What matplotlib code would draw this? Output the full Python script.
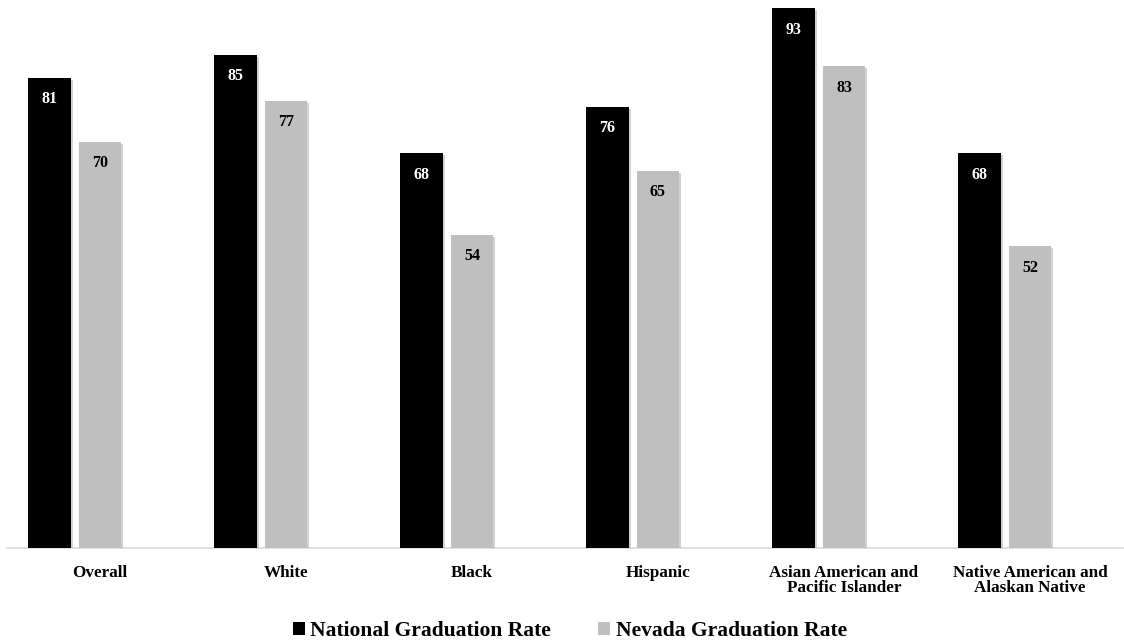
import matplotlib
matplotlib.use("Agg")
import matplotlib.pyplot as plt
import matplotlib.patheffects as pe
from matplotlib.patches import Patch
import numpy as np

categories = ["Overall", "White", "Black", "Hispanic",
              "Asian American and\nPacific Islander",
              "Native American and\nAlaskan Native"]
national = [81, 85, 68, 76, 93, 68]
nevada = [70, 77, 54, 65, 83, 52]
series_names = ["National Graduation Rate", "Nevada Graduation Rate"]

plt.rcParams['font.family'] = ['Liberation Serif', 'DejaVu Serif']
plt.rcParams['font.weight'] = 'bold'

fig = plt.figure(figsize=(11.24, 6.4), dpi=100)
ax = fig.add_axes([7/1124, 92/640, 1116/1124, 548/640])

x = np.arange(len(categories))
w = 0.23
shift = 0.272
shadow = [pe.SimplePatchShadow(offset=(1.5, -1.5), shadow_rgbFace='#808080', alpha=0.35), pe.Normal()]

b1 = ax.bar(x - shift, national, width=w, color='black', zorder=3)
b2 = ax.bar(x, nevada, width=w, color='#bfbfbf', zorder=3)
for b in list(b1) + list(b2):
    b.set_path_effects(shadow)

for xi, v in zip(x - shift, national):
    ax.text(xi, v - 3.7, str(v), ha='center', va='center', color='white',
            fontsize=11.5, fontweight='bold', zorder=4)
for xi, v in zip(x, nevada):
    ax.text(xi, v - 3.7, str(v), ha='center', va='center', color='black',
            fontsize=11.5, fontweight='bold', zorder=4)

ax.set_xlim(-0.5, 5.5)
ax.set_ylim(0, 94.4)
ax.set_yticks([])
ax.set_xticks(x)
ax.set_xticklabels(categories, fontsize=12.3, fontweight='bold', linespacing=0.95)
ax.tick_params(axis='x', length=0, pad=12)
for s in ['top', 'right', 'left']:
    ax.spines[s].set_visible(False)
ax.spines['bottom'].set_color('#d9d9d9')
ax.spines['bottom'].set_linewidth(1.2)

handles = [Patch(facecolor='black'), Patch(facecolor='#bfbfbf')]
fig.legend(handles, series_names, loc='lower center', bbox_to_anchor=(0.507, -0.032),
           ncol=2, frameon=False, handlelength=0.55, handleheight=0.55,
           handletextpad=0.25, columnspacing=2.2,
           prop={'family': 'Liberation Serif', 'weight': 'bold', 'size': 15.5})

fig.savefig("out.png", dpi=100)
